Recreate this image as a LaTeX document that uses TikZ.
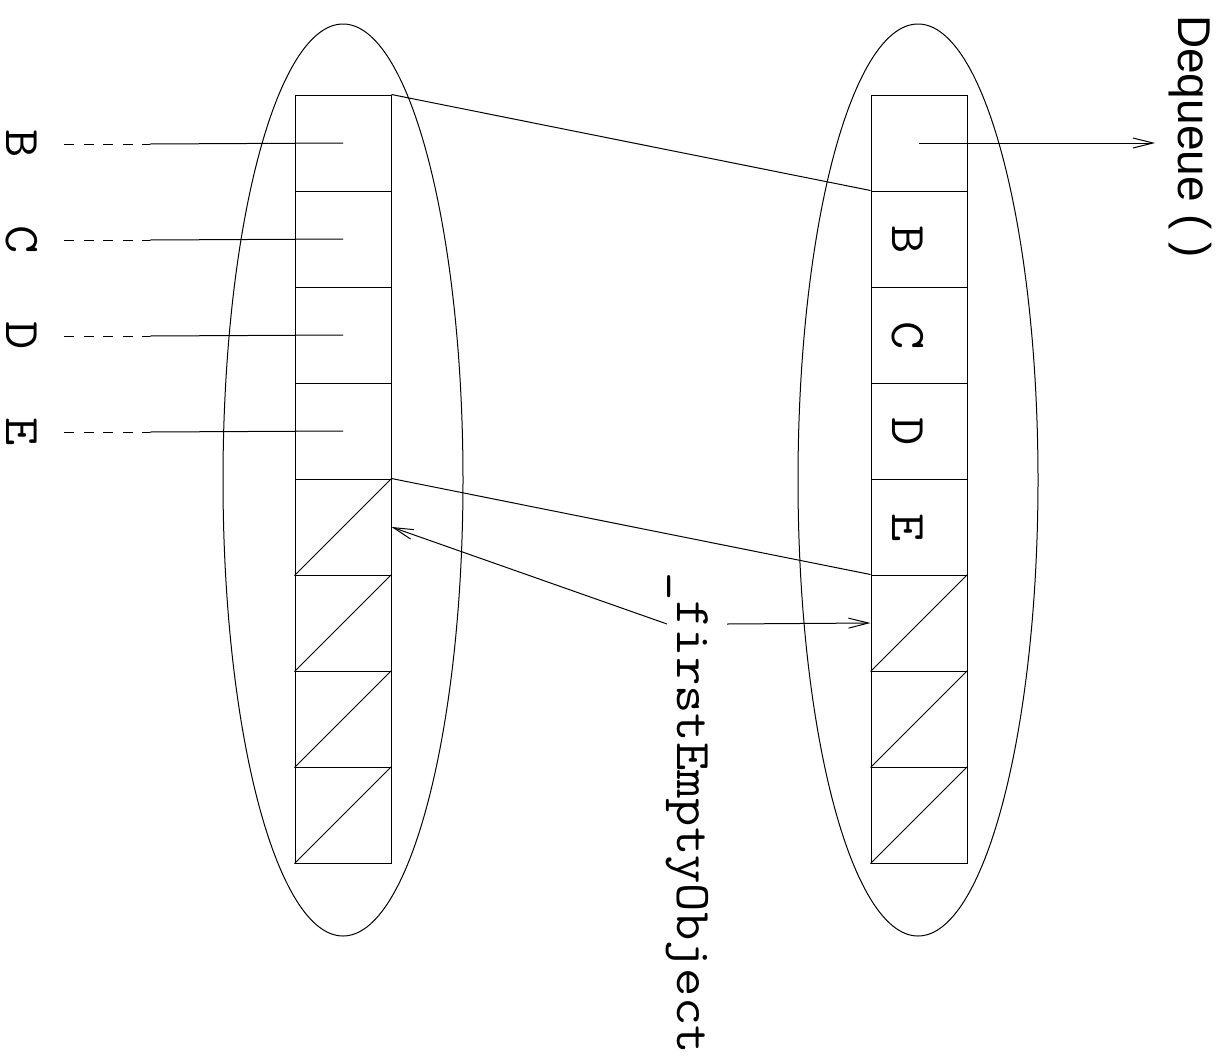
\documentclass[tikz,border=0pt]{standalone}
\usepackage{fontspec}
\usepackage{graphicx}
\newfontfamily\helv{Liberation Sans}
\newcommand{\cw}[1]{\scalebox{1.1}[1]{#1}}
\usetikzlibrary{shapes.geometric,arrows.meta}
\begin{document}
\begin{tikzpicture}[x=1pt,y=-1pt,
 cell/.style={draw,rectangle,minimum width=96pt,minimum height=96pt,inner sep=0pt,line width=1pt},
 oval/.style={draw,ellipse,minimum width=240pt,minimum height=912pt,inner sep=0pt,line width=1pt},
 ttl/.style={font=\fontsize{50}{54}\selectfont\ttfamily,rotate=-90,inner sep=0pt},
 conn/.style={line width=1pt},
 arr/.style={line width=1pt,-{Straight Barb[length=20pt,width=10pt]}},
]
\useasboundingbox (0,0) rectangle (1220,1063);
% ellipses
\node[oval] (EL) at (343,480) {};
\node[oval] (ER) at (918,480) {};
% cells
\foreach \i in {1,...,8} {
  \node[cell] (L\i) at (343,{47+96*\i}) {};
  \node[cell] (R\i) at (919,{47+96*\i}) {};
}
\foreach \i in {5,...,8} \draw[conn] (L\i.north east) -- (L\i.south west);
\foreach \i in {6,...,8} \draw[conn] (R\i.north east) -- (R\i.south west);
% labels and dashed pointers
\foreach \lt/\k in {B/1,C/2,D/3,E/4} {
  \node[ttl,anchor=base] (lab\lt) at (6,{48+96*\k}) {\cw{\lt}};
  \coordinate (ds\lt) at (64,{48+96*\k});
  \coordinate (de\lt) at (150,{48+96*\k});
  \draw[conn,dash pattern=on 10pt off 9.5pt] (ds\lt) -- (de\lt);
  \draw[conn] (de\lt) -- (L\k.center);
  \node[ttl,anchor=base] (r\lt) at (892,{48+96*(\k+1)}) {\cw{\lt}};
}
% connectors between arrays
\draw[conn] (L1.north east) -- (R2.north west);
\draw[conn] (L5.north east) -- (R6.north west);
% Dequeue
\node[font=\helv\fontsize{46}{50}\selectfont,rotate=-90,anchor=base west,inner sep=0pt] (deq) at (1178,15) {Dequeue ( )};
\coordinate (dqe) at (1155,143);
\draw[arr] (R1.center) -- (dqe);
% _firstEmptyObject
\node[ttl,anchor=base west] (fe) at (677,572) {\cw{\_firstEmptyObject}};
\coordinate (fa) at (667,624);
\coordinate (fb) at (727,624);
\draw[arr] (fa) -- (L5.east);
\draw[arr] (fb) -- (R6.west);
\end{tikzpicture}
\end{document}
